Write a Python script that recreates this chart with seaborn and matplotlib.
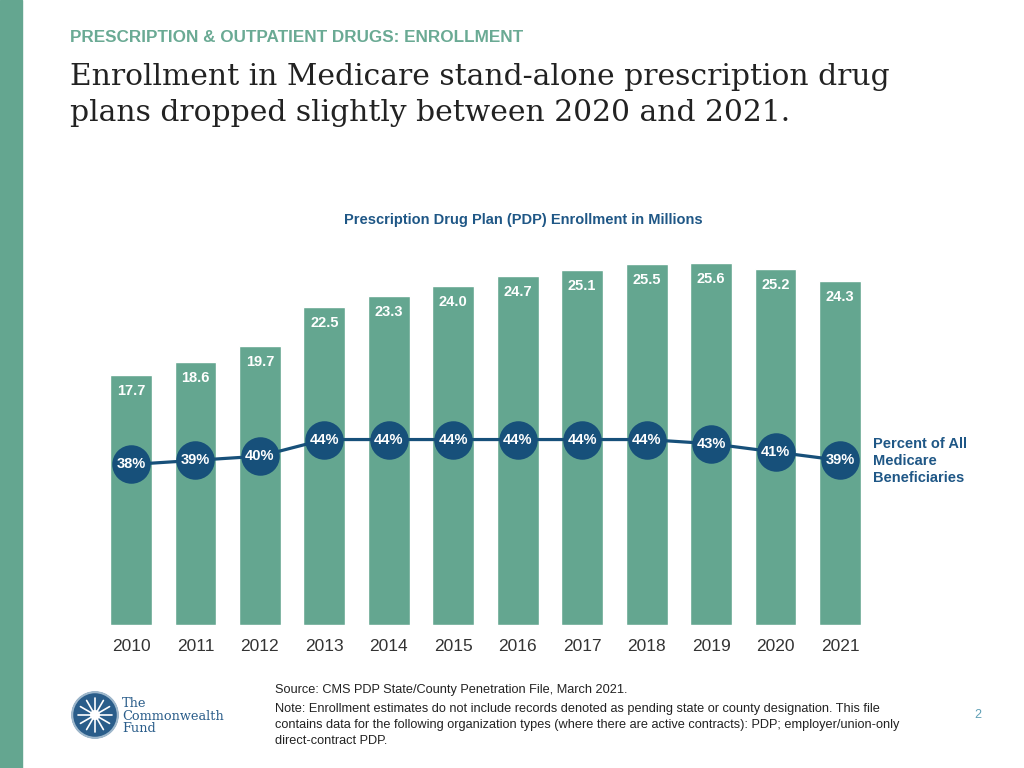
import matplotlib
matplotlib.use("Agg")
import matplotlib.pyplot as plt
import matplotlib.patches as mpatches
import seaborn as sns
import pandas as pd
import numpy as np

years = ["2010", "2011", "2012", "2013", "2014", "2015", "2016", "2017", "2018", "2019", "2020", "2021"]
enrollment = [17.7, 18.6, 19.7, 22.5, 23.3, 24.0, 24.7, 25.1, 25.5, 25.6, 25.2, 24.3]
percent = [38, 39, 40, 44, 44, 44, 44, 44, 44, 43, 41, 39]

GREEN = "#64a690"
BLUE = "#17507a"
TEXTBLUE = "#1f5786"

sns.set_theme(style="white")
plt.rcParams["font.family"] = ["Liberation Sans", "DejaVu Sans"]

df = pd.DataFrame({"year": years, "enroll": enrollment, "pct": percent})

fig = plt.figure(figsize=(10.24, 7.68), dpi=100)
W, H = 1024, 768

# axes: bar centers 131..840 px, baseline at y=625 px
step = (840 - 131) / 11
left = 131 - 0.5 * step
width = 12 * step
bottom_px = 625
ppu = 14.14
ymax = 30
height = ymax * ppu
ax = fig.add_axes([left / W, 1 - bottom_px / H, width / W, height / H])

sns.barplot(data=df, x="year", y="enroll", color=GREEN, width=0.65, saturation=1, ax=ax)
for i, v in enumerate(enrollment):
    ax.annotate(f"{v:.1f}", (i, v), xytext=(0, -16), textcoords="offset pixels",
                ha="center", va="center", color="white", fontsize=10.5, fontweight="bold")

ax.set_xlim(-0.5, 11.5)
ax.set_ylim(0, ymax)
ax.set_xlabel("")
ax.set_ylabel("")
ax.set_yticks([])
ax.tick_params(axis="x", length=0, pad=10, labelsize=12.5, labelcolor="#333333")
for s in ax.spines.values():
    s.set_visible(False)

ax2 = ax.twinx()
sns.pointplot(data=df, x="year", y="pct", color=BLUE, errorbar=None, markers="o",
              markersize=26, linewidth=2.3, ax=ax2)
for i, p in enumerate(percent):
    ax2.text(i, p, f"{p}%", ha="center", va="center", color="white",
             fontsize=10.5, fontweight="bold")
ax2.set_xlim(-0.5, 11.5)
ax2.set_ylim(-0.59, 101.4)
ax2.set_yticks([])
ax2.set_ylabel("")
ax2.set_xlabel("")
for s in ax2.spines.values():
    s.set_visible(False)

# right-side label
fig.text(873 / W, 1 - 461 / H, "Percent of All\nMedicare\nBeneficiaries", ha="left", va="center",
         color=TEXTBLUE, fontsize=10.5, fontweight="bold", linespacing=1.25)

# left stripe
fig.add_artist(mpatches.Rectangle((0, 0), 22 / W, 1, transform=fig.transFigure,
                                  color=GREEN, zorder=0))

# header
fig.text(70 / W, 1 - 38 / H, "PRESCRIPTION & OUTPATIENT DRUGS: ENROLLMENT", ha="left", va="center",
         color="#6aaa94", fontsize=12.3, fontweight="bold")
fig.text(70 / W, 1 - 95 / H,
         "Enrollment in Medicare stand-alone prescription drug\nplans dropped slightly between 2020 and 2021.",
         ha="left", va="center", color="#222222", fontsize=21.4, family="DejaVu Serif",
         linespacing=1.38)

fig.text(523 / W, 1 - 220 / H, "Prescription Drug Plan (PDP) Enrollment in Millions", ha="center",
         va="center", color=TEXTBLUE, fontsize=10.5, fontweight="bold")

# footer
fig.text(275 / W, 1 - 690 / H, "Source: CMS PDP State/County Penetration File, March 2021.",
         ha="left", va="center", color="#222222", fontsize=9.2)
fig.text(275 / W, 1 - 703 / H,
         "Note: Enrollment estimates do not include records denoted as pending state or county designation. This file\n"
         "contains data for the following organization types (where there are active contracts): PDP; employer/union-only\n"
         "direct-contract PDP.",
         ha="left", va="top", color="#222222", fontsize=9.2, linespacing=1.47)
fig.text(978 / W, 1 - 715 / H, "2", ha="center", va="center", color="#5f9fb5", fontsize=9)

# logo
logo_ax = fig.add_axes([(95 - 24) / W, 1 - (715 + 24) / H, 48 / W, 48 / H])
logo_ax.set_xlim(-1, 1)
logo_ax.set_ylim(-1, 1)
logo_ax.axis("off")
logo_ax.add_patch(mpatches.Circle((0, 0), 0.95, color="#2a5d8a"))
logo_ax.add_patch(mpatches.Circle((0, 0), 0.95, fill=False, ec="#9fb8cc", lw=1.5))
for a in np.linspace(0, np.pi, 6, endpoint=False):
    logo_ax.plot([-0.7 * np.cos(a), 0.7 * np.cos(a)], [-0.7 * np.sin(a), 0.7 * np.sin(a)],
                 color="white", lw=1.2)
logo_ax.add_patch(mpatches.Circle((0, 0), 0.18, color="white"))
fig.text(122 / W, 1 - 716 / H, "The\nCommonwealth\nFund", ha="left", va="center",
         color="#2a5d8a", fontsize=9.3, family="DejaVu Serif", linespacing=0.95)

fig.savefig("out.png", dpi=100)
